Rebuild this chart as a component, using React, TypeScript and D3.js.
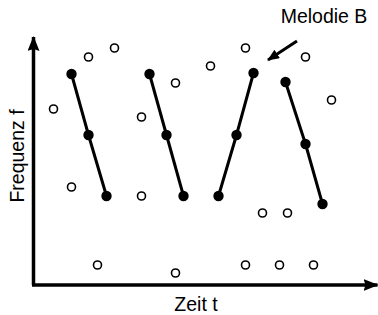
import React, { useEffect, useRef } from 'react';
import * as d3 from 'd3';

// time t and frequency f of the background tones (open circles)
const toneTimes = [20, 55, 81, 38, 64, 108, 108, 142, 142, 177, 212, 212, 229, 254, 246, 272, 280, 298];
const toneFreqs = [176, 228, 237, 98, 20, 168, 89, 202, 12, 219, 237, 20, 72, 72, 20, 228, 20, 185];

// melody B: four three-note phrases
const melodyTimes = [
  [38, 55, 73],
  [116, 133, 150],
  [185, 203, 220],
  [252, 272, 289],
];
const melodyFreqs = [
  [211, 150, 89],
  [211, 150, 89],
  [89, 150, 212],
  [203, 141, 81],
];

const xLabel = 'Zeit t';
const yLabel = 'Frequenz f';
const melodyLabel = 'Melodie B';

const App: React.FC = () => {
  const svgRef = useRef<SVGSVGElement>(null);
  const width = 378;
  const height = 315;

  useEffect(() => {
    if (!svgRef.current) return;
    const svg = d3.select(svgRef.current);
    svg.selectAll('*').remove();

    const origin = { x: 33.5, y: 285 };
    const xScale = d3.scaleLinear().domain([0, 345]).range([origin.x, origin.x + 345]);
    const yScale = d3.scaleLinear().domain([0, 250]).range([origin.y, origin.y - 250]);

    const font = 'Helvetica, Arial, "Liberation Sans", sans-serif';

    // arrowheads
    const defs = svg.append('defs');
    defs.append('marker')
      .attr('id', 'axisHead')
      .attr('viewBox', '0 0 15 12')
      .attr('refX', 14)
      .attr('refY', 6)
      .attr('markerWidth', 15)
      .attr('markerHeight', 12)
      .attr('markerUnits', 'userSpaceOnUse')
      .attr('orient', 'auto')
      .append('path')
      .attr('d', 'M0,0 L15,6 L0,12 L2,6 Z')
      .attr('fill', '#000');
    defs.append('marker')
      .attr('id', 'labelHead')
      .attr('viewBox', '0 0 12 10')
      .attr('refX', 11)
      .attr('refY', 5)
      .attr('markerWidth', 12)
      .attr('markerHeight', 10)
      .attr('markerUnits', 'userSpaceOnUse')
      .attr('orient', 'auto')
      .append('path')
      .attr('d', 'M0,0 L12,5 L0,10 Z')
      .attr('fill', '#000');

    // axes
    svg.append('path')
      .attr('d', `M${origin.x},${origin.y} L${origin.x},${yScale(248)}`)
      .attr('stroke', '#000')
      .attr('stroke-width', 3.5)
      .attr('fill', 'none')
      .attr('marker-end', 'url(#axisHead)');
    svg.append('path')
      .attr('d', `M${origin.x - 1.5},${origin.y} L${xScale(344)},${origin.y}`)
      .attr('stroke', '#000')
      .attr('stroke-width', 3.5)
      .attr('fill', 'none')
      .attr('marker-end', 'url(#axisHead)');

    // background tones
    svg.append('g')
      .selectAll('circle')
      .data(toneTimes.map((t, i) => ({ t, f: toneFreqs[i] })))
      .enter()
      .append('circle')
      .attr('cx', d => xScale(d.t))
      .attr('cy', d => yScale(d.f))
      .attr('r', 4)
      .attr('fill', '#fff')
      .attr('stroke', '#000')
      .attr('stroke-width', 1.6);

    // melody phrases
    const line = d3.line<[number, number]>()
      .x(d => xScale(d[0]))
      .y(d => yScale(d[1]));

    melodyTimes.forEach((times, i) => {
      const pts: [number, number][] = times.map((t, j) => [t, melodyFreqs[i][j]]);
      const g = svg.append('g');
      g.append('path')
        .attr('d', line(pts)!)
        .attr('stroke', '#000')
        .attr('stroke-width', 3)
        .attr('fill', 'none');
      g.selectAll('circle')
        .data(pts)
        .enter()
        .append('circle')
        .attr('cx', d => xScale(d[0]))
        .attr('cy', d => yScale(d[1]))
        .attr('r', 5.2)
        .attr('fill', '#000');
    });

    // labels
    svg.append('text')
      .attr('x', 196)
      .attr('y', 311)
      .attr('text-anchor', 'middle')
      .style('font-family', font)
      .style('font-size', '19.5px')
      .text(xLabel);

    svg.append('text')
      .attr('transform', 'translate(24,156) rotate(-90)')
      .attr('text-anchor', 'middle')
      .style('font-family', font)
      .style('font-size', '19.5px')
      .text(yLabel);

    svg.append('text')
      .attr('x', 324)
      .attr('y', 23)
      .attr('text-anchor', 'middle')
      .style('font-family', font)
      .style('font-size', '19.5px')
      .text(melodyLabel);

    svg.append('path')
      .attr('d', 'M297,41 L268,60')
      .attr('stroke', '#000')
      .attr('stroke-width', 3)
      .attr('fill', 'none')
      .attr('marker-end', 'url(#labelHead)');
  }, []);

  return (
    <div style={{ position: 'absolute', left: 0, top: 0 }}>
      <svg ref={svgRef} width={width} height={height} style={{ display: 'block', background: '#fff' }} />
    </div>
  );
};

export default App;
